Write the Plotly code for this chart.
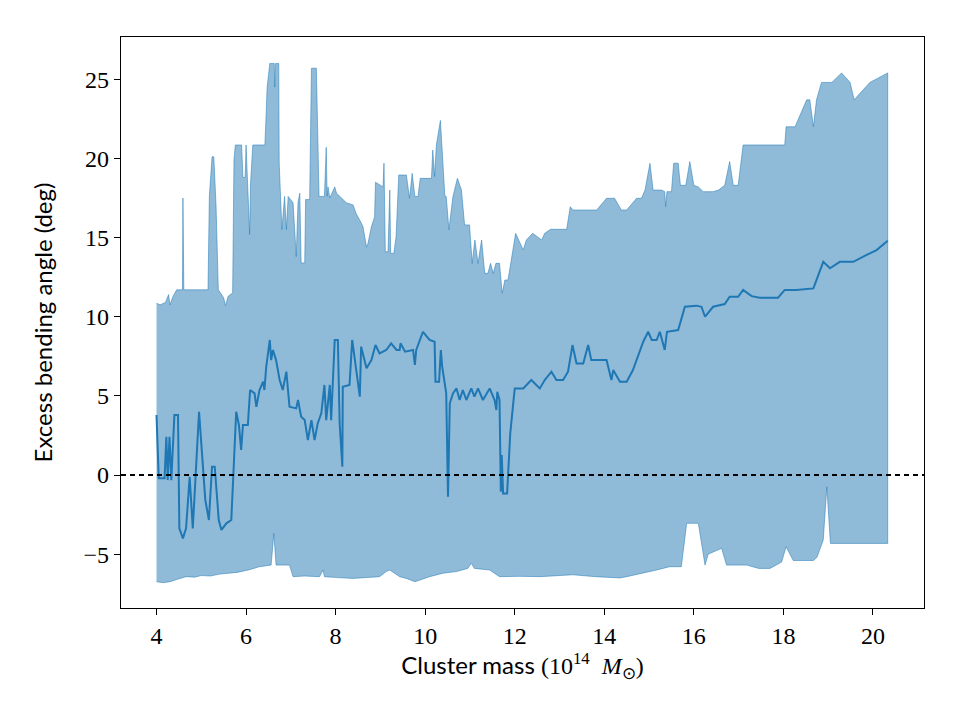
import plotly.graph_objects as go

# Upper envelope of the band
upper_x = [4.00, 4.08, 4.20, 4.27, 4.30, 4.37, 4.45, 4.58, 4.59, 4.61, 5.15, 5.18, 5.24, 5.28, 5.33, 5.38,
           5.50, 5.54, 5.60, 5.70, 5.73, 5.76, 5.90, 5.93, 5.98, 6.00, 6.08, 6.10, 6.15, 6.42, 6.45, 6.47,
           6.53, 6.63, 6.64, 6.66, 6.73, 6.74, 6.77, 6.80, 6.86, 6.90, 6.94, 7.05, 7.12, 7.16, 7.20, 7.23,
           7.31, 7.33, 7.42, 7.46, 7.57, 7.60, 7.63, 7.75, 7.79, 7.81, 7.83, 7.87, 7.98, 8.02, 8.09, 8.24,
           8.39, 8.46, 8.54, 8.61, 8.69, 8.72, 8.80, 8.87, 8.89, 9.06, 9.08, 9.11, 9.17, 9.21, 9.23, 9.30,
           9.35, 9.38, 9.41, 9.58, 9.65, 9.71, 9.77, 9.84, 9.89, 10.14, 10.17, 10.21, 10.25, 10.34, 10.40,
           10.44, 10.47, 10.53, 10.62, 10.72, 10.81, 10.88, 10.99, 11.05, 11.11, 11.18, 11.26, 11.33, 11.40,
           11.46, 11.52, 11.58, 11.66, 11.72, 11.78, 11.85, 12.02, 12.15, 12.19, 12.26, 12.40, 12.60, 12.67,
           12.80, 13.16, 13.24, 13.30, 13.83, 14.05, 14.23, 14.38, 14.50, 14.72, 14.83, 14.91, 15.02, 15.09,
           15.28, 15.35, 15.37, 15.40, 15.50, 15.55, 15.65, 15.70, 15.82, 15.91, 16.00, 16.10, 16.21, 16.43,
           16.55, 16.69, 16.80, 16.88, 16.99, 17.10, 18.03, 18.06, 18.26, 18.52, 18.59, 18.67, 18.74, 18.85,
           19.08, 19.30, 19.49, 19.58, 19.93, 20.33]
upper_y = [10.85, 10.75, 10.9, 11.4, 10.75, 11.3, 11.7, 11.7, 17.5, 11.7, 11.7, 17.6, 20.1, 20.1, 17.0, 11.7,
           11.2, 10.7, 11.3, 11.5, 19.9, 20.85, 20.85, 18.8, 18.8, 20.85, 15.2, 18.4, 20.85, 20.85, 22.9, 24.5,
           26.0, 26.0, 24.5, 26.0, 26.0, 19.7, 17.6, 15.5, 17.6, 15.5, 17.6, 17.2, 13.8, 17.2, 17.8, 13.4,
           13.4, 17.4, 17.4, 25.7, 25.7, 20.7, 17.6, 17.6, 20.7, 17.6, 18.2, 17.5, 18.2, 17.8, 17.6, 17.2,
           17.06, 16.5, 16.1, 15.7, 14.4, 14.6, 15.7, 16.3, 18.5, 18.2, 19.7, 14.1, 14.1, 18.0, 14.0, 14.0,
           15.05, 17.6, 18.95, 18.95, 17.48, 19.06, 17.6, 17.6, 18.74, 18.74, 20.53, 18.85, 20.85, 22.4, 19.27,
           17.6, 17.6, 15.5, 17.6, 18.74, 18.0, 15.8, 15.8, 13.37, 14.85, 13.37, 14.85, 12.74, 12.74,
           13.37, 12.74, 13.37, 13.37, 11.48, 12.32, 12.32, 15.27, 14.43, 14.22, 14.85, 15.27, 14.85, 15.27,
           15.52, 15.52, 16.95, 16.74, 16.74, 17.48, 17.48, 16.74, 16.74, 17.48, 17.48, 18.0, 19.69, 18.0,
           18.0, 17.9, 16.95, 17.9, 17.9, 19.7, 19.7, 18.3, 18.3, 19.8, 18.3, 18.2, 17.9, 17.9,
           18.0, 18.3, 19.8, 18.3, 18.3, 20.85, 20.85, 22.0, 22.0, 23.7, 23.7, 22.0, 23.7, 24.8,
           24.8, 25.4, 24.8, 23.7, 24.8, 25.4]

# Lower envelope of the band
lower_x = [4.00, 4.15, 4.30, 4.45, 4.66, 4.85, 5.00, 5.20, 5.41, 5.60, 5.80, 6.05, 6.30, 6.56, 6.62, 6.67,
           6.97, 7.05, 7.30, 7.64, 7.72, 7.75, 8.05, 8.39, 8.70, 8.98, 9.13, 9.21, 9.43, 9.60, 9.77, 10.10,
           10.40, 10.70, 10.95, 11.03, 11.10, 11.44, 11.66, 12.10, 12.56, 13.00, 13.30, 13.80, 14.35, 14.50,
           14.80, 15.17, 15.46, 15.72, 15.84, 16.10, 16.25, 16.32, 16.62, 16.73, 17.18, 17.45, 17.70,
           17.96, 18.06, 18.22, 18.67, 18.75, 18.89, 18.97, 19.05, 20.33]
lower_y = [-6.74, -6.80, -6.74, -6.60, -6.42, -6.45, -6.35, -6.38, -6.26, -6.20, -6.15, -6.0, -5.79, -5.69,
           -3.69, -5.69, -5.69, -6.42, -6.38, -6.42, -6.0, -6.42, -6.48, -6.53, -6.45, -6.42, -6.10, -6.0,
           -6.42, -6.55, -6.74, -6.42, -6.2, -6.1, -5.9, -5.58, -5.9, -6.0, -6.42, -6.40, -6.42, -6.35,
           -6.3, -6.42, -6.5, -6.42, -6.25, -6.0, -5.79, -5.79, -3.05, -3.05, -5.69, -5.0, -4.63, -5.69,
           -5.69, -5.9, -5.9, -5.5, -4.53, -5.4, -5.4, -5.2, -4.1, -0.74, -4.32, -4.32]

# Central (median) curve
mid_x = [4.00, 4.05, 4.18, 4.22, 4.25, 4.29, 4.33, 4.40, 4.48, 4.51, 4.59, 4.66, 4.74, 4.81, 4.95, 5.00,
         5.09, 5.17, 5.24, 5.30, 5.39, 5.45, 5.56, 5.67, 5.72, 5.78, 5.84, 5.89, 5.93, 6.04, 6.09, 6.19,
         6.23, 6.30, 6.38, 6.41, 6.45, 6.53, 6.56, 6.60, 6.67, 6.75, 6.82, 6.90, 6.97, 7.12, 7.16, 7.23,
         7.31, 7.38, 7.46, 7.53, 7.60, 7.68, 7.75, 7.79, 7.87, 7.90, 7.98, 8.05, 8.09, 8.15, 8.16, 8.31,
         8.37, 8.54, 8.57, 8.69, 8.80, 8.89, 8.98, 9.13, 9.24, 9.36, 9.43, 9.45, 9.55, 9.73, 9.77, 9.80,
         9.95, 10.10, 10.21, 10.23, 10.31, 10.35, 10.38, 10.44, 10.47, 10.51, 10.55, 10.62, 10.70, 10.77,
         10.84, 10.92, 11.03, 11.10, 11.18, 11.29, 11.44, 11.55, 11.59, 11.61, 11.66, 11.69, 11.71, 11.74,
         11.83, 11.90, 12.00, 12.19, 12.37, 12.56, 12.67, 12.82, 12.93, 13.08, 13.19, 13.29, 13.38, 13.53,
         13.64, 13.71, 14.05, 14.16, 14.20, 14.35, 14.50, 14.64, 14.87, 14.98, 15.06, 15.17, 15.24, 15.35,
         15.40, 15.65, 15.80, 16.06, 16.17, 16.25, 16.43, 16.69, 16.80, 16.99, 17.10, 17.29, 17.47, 17.88,
         18.03, 18.29, 18.67, 18.89, 19.04, 19.26, 19.56, 19.86, 20.08, 20.33]
mid_y = [3.79, -0.21, -0.21, 2.42, -0.32, 2.42, -0.32, 3.79, 3.79, -3.37, -4.0, -3.37, -0.11, -3.37, 4.0, 2.0,
         -1.58, -2.84, 0.53, 0.53, -2.84, -3.47, -3.05, -2.84, 0.63, 4.0, 3.16, 1.58, 3.16, 3.16, 5.37, 5.16,
         4.31, 5.37, 5.9, 5.37, 6.84, 8.53, 7.26, 7.90, 7.26, 6.0, 5.37, 6.53, 4.31, 4.21, 4.74, 3.68,
         3.47, 2.21, 3.47, 2.21, 3.26, 3.90, 5.69, 3.47, 5.69, 3.47, 8.53, 8.53, 3.26, 0.53, 5.58, 5.69,
         8.53, 4.95, 8.11, 6.74, 7.26, 8.21, 7.69, 7.90, 8.32, 7.90, 7.90, 8.32, 7.79, 7.90, 6.95, 7.90,
         9.05, 8.53, 8.42, 5.9, 5.9, 7.90, 6.84, 5.58, 5.16, -1.37, 4.53, 5.16, 5.47, 4.74,
         5.37, 4.74, 5.47, 4.95, 5.47, 4.74, 5.47, 4.74, 4.11, 5.26, 4.74, -1.05, 1.26, -1.16,
         -1.16, 2.63, 5.47, 5.47, 6.0, 5.47, 6.0, 6.53, 6.0, 6.0, 6.53, 8.21, 7.05, 7.05,
         8.21, 7.26, 7.26, 6.0, 6.63, 5.9, 5.9, 6.63, 8.42, 9.05, 8.53, 8.53, 9.05, 7.90,
         9.05, 9.16, 10.63, 10.7, 10.63, 10.0, 10.63, 10.8, 11.26, 11.26, 11.69, 11.3, 11.2, 11.2,
         11.69, 11.69, 11.79, 13.47, 13.06, 13.47, 13.47, 13.9, 14.21, 14.8]

x_ticks = [4, 6, 8, 10, 12, 14, 16, 18, 20]
y_ticks = [-5, 0, 5, 10, 15, 20, 25]

C0 = "31,119,180"

fig = go.Figure()
fig.add_trace(go.Scatter(
    x=upper_x + lower_x[::-1], y=upper_y + lower_y[::-1],
    mode="lines", fill="toself", fillcolor=f"rgba({C0},0.5)",
    line=dict(color=f"rgba({C0},0.5)", width=1), hoverinfo="skip", showlegend=False))
fig.add_trace(go.Scatter(
    x=mid_x, y=mid_y, mode="lines",
    line=dict(color=f"rgb({C0})", width=2), showlegend=False))

fig.add_shape(type="line", xref="paper", yref="y", x0=0, x1=1, y0=0, y1=0,
              line=dict(color="black", width=2, dash="5px,4px"))

tick_font = dict(family="Liberation Serif, DejaVu Serif, serif", size=24, color="black")
title_font = dict(family="Lato, DejaVu Sans, sans-serif", size=24, color="black")

x_title = ('Cluster mass <span style="font-family:Liberation Serif">(10<sup>14</sup>\u00a0\u00a0'
           '<i>M</i><sub>⊙</sub>)</span>')

fig.update_layout(
    width=960, height=720,
    margin=dict(l=121, r=36, t=37, b=112),
    paper_bgcolor="white", plot_bgcolor="white",
    xaxis=dict(range=[3.207, 21.14], tickvals=x_ticks, ticktext=[str(v) for v in x_ticks],
               showgrid=False, zeroline=False, showline=True, linecolor="black", linewidth=1.2,
               mirror=True, ticks="outside", ticklen=6, tickwidth=1.2, tickcolor="black",
               tickfont=tick_font,
               title=dict(text=x_title, font=title_font, standoff=6)),
    yaxis=dict(range=[-8.40, 27.67], tickvals=y_ticks,
               ticktext=["\u22125" if v < 0 else str(v) for v in y_ticks],
               showgrid=False, zeroline=False, showline=True, linecolor="black", linewidth=1.2,
               mirror=True, ticks="outside", ticklen=6, tickwidth=1.2, tickcolor="black",
               tickfont=tick_font,
               title=dict(text="Excess bending angle (deg)", font=title_font, standoff=24)),
)

fig.write_html("out.html")
